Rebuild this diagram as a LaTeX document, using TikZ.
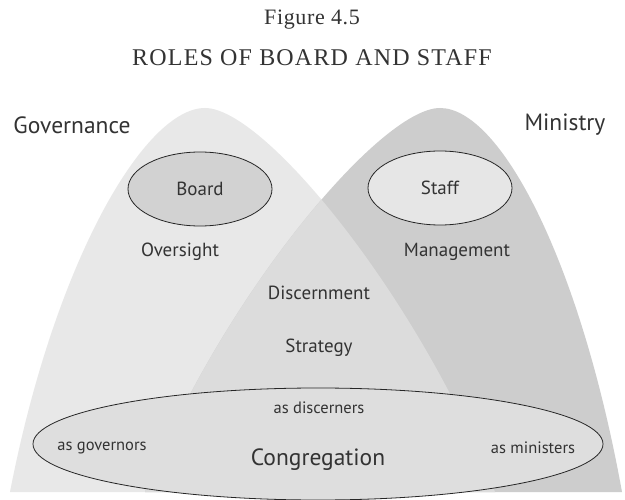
\documentclass[tikz,border=0pt]{standalone}
\usepackage{fontspec}
\setmainfont{Liberation Serif}
\setsansfont{PT Sans}
\usetikzlibrary{shapes.geometric,positioning}
\definecolor{govgray}{HTML}{E8E8E8}
\definecolor{mingray}{HTML}{CDCDCD}
\definecolor{lensgray}{HTML}{DCDCDC}
\definecolor{boardgray}{HTML}{D2D2D2}
\definecolor{staffgray}{HTML}{E6E6E6}
\definecolor{conggray}{HTML}{DEDEDE}
\definecolor{ink}{HTML}{333333}
\tikzset{
  lbl/.style={font=\sffamily\fontsize{19}{21}\selectfont, text=ink},
  biglbl/.style={font=\sffamily\fontsize{23.5}{26}\selectfont, text=ink},
  smalllbl/.style={font=\sffamily\fontsize{16.5}{18}\selectfont, text=ink},
  oval/.style={ellipse, draw=black!85, line width=0.8pt, inner sep=0pt}
}
\def\govdome{(10,492) .. controls (55,260) and (145,108) .. (205,108) .. controls (265,108) and (420,300) .. (495,492) -- cycle}
\def\mindome{(145,492) .. controls (220,300) and (380,108) .. (440,108) .. controls (500,108) and (580,260) .. (622,492) -- cycle}
\begin{document}
\begin{tikzpicture}[x=1pt,y=-1pt]
\useasboundingbox (0,0) rectangle (625,500);
\fill[white] (0,0) rectangle (625,500);
\fill[govgray] \govdome;
\fill[mingray] \mindome;
\begin{scope}
\clip \govdome;
\fill[lensgray] \mindome;
\end{scope}
\node[font=\rmfamily\addfontfeatures{LetterSpace=3}\fontsize{22}{24}\selectfont, text=ink] (fig) at (312,20) {Figure 4.5};
\node[font=\rmfamily\addfontfeatures{LetterSpace=5}\fontsize{24}{26}\selectfont, text=ink] (title) at (312,58) {ROLES OF BOARD AND STAFF};
\node[biglbl] (gov) at (72,125) {Governance};
\node[biglbl] (min) at (565,125) {Ministry};
\node[oval, fill=boardgray, minimum width=144pt, minimum height=74pt, lbl] (board) at (200,189) {Board};
\node[oval, fill=staffgray, minimum width=144pt, minimum height=74pt, lbl] (staff) at (440,188) {Staff};
\node[lbl] (over) at (180,252) {Oversight};
\node[lbl] (mgmt) at (457,252) {Management};
\node[lbl] (disc) at (319,293) {Discernment};
\node[lbl] (strat) at (319,348) {Strategy};
\node[oval, fill=conggray, minimum width=570pt, minimum height=112pt] (cong) at (318,444) {};
\node[smalllbl] (asdisc) at (319,408) {as discerners};
\node[smalllbl] (asgov) at (102,448) {as governors};
\node[smalllbl] (asmin) at (533,448) {as ministers};
\node[biglbl] (congl) at (318,460) {Congregation};
\end{tikzpicture}
\end{document}
